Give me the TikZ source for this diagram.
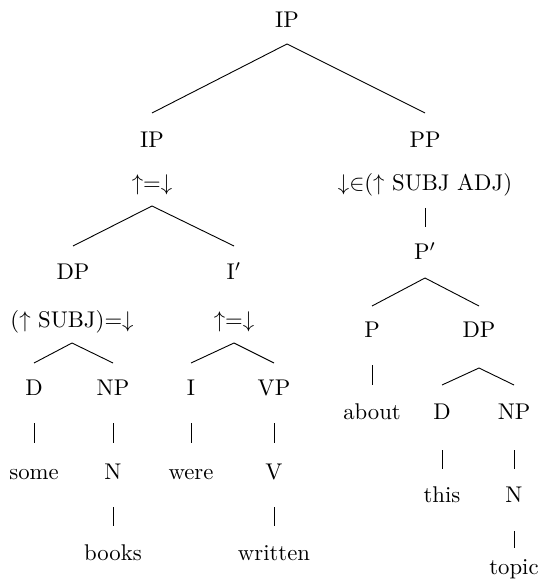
\documentclass[tikz,border=0pt]{standalone}
\usetikzlibrary{calc}
\begin{document}
\begin{tikzpicture}[x=0.44pt,y=-0.44pt,
    lbl/.style={anchor=base,inner sep=0pt},
    branch/.style={line width=0.4pt}]
  \useasboundingbox (0,0) rectangle (543,582);
  % categories and annotations
  \foreach \n/\x/\y/\t in {root/287/28/IP, ip/152/148/IP, ipf/152/191/{$\uparrow$=$\downarrow$},
      pp/425/148/PP, ppf/425/191/{$\downarrow$$\in$($\uparrow$ SUBJ ADJ)},
      dp/73/280/DP, dpf/72/328/{($\uparrow$ SUBJ)=$\downarrow$},
      ibar/234/280/{I$'$}, ibarf/234/328/{$\uparrow$=$\downarrow$},
      pbar/425/260/{P$'$}, d1/34/395/D, np1/113/395/NP, i1/191/395/I, vp/274/395/VP,
      p/372/338/P, dp2/479/338/DP, d2/442/419/D, np2/514/419/NP,
      n1/113/479/N, v/274/479/V, n2/514/502/N}
    \node[lbl] (\n) at (\x,\y) {\t};
  % words
  \foreach \n/\x/\y/\t in {some/34/479/some, books/113/560/books, were/191/479/were,
      written/274/560/written, about/372/419/about, this/442/502/this, topic/514/574/topic}
    \node[lbl] (\n) at (\x,\y) {\t};
  % branches: parent/child/gap below parent/gap above child
  \foreach \p/\c/\a/\b in {root/ip/16/35, root/pp/16/35, ipf/dp/15/34, ipf/ibar/15/34,
      ppf/pbar/17/33, dpf/d1/15/32, dpf/np1/15/32, ibarf/i1/15/32, ibarf/vp/15/32,
      pbar/p/18/32, pbar/dp2/18/32, dp2/d2/30/34, dp2/np2/30/34, p/about/27/34,
      d1/some/28/36, np1/n1/28/36, i1/were/28/36, vp/v/28/36,
      n1/books/28/34, v/written/28/34, d2/this/31/33, np2/n2/31/33, n2/topic/29/26}
    \draw[branch] ($(\p.base)+(0,\a)$) -- ($(\c.base)-(0,\b)$);
\end{tikzpicture}
\end{document}
